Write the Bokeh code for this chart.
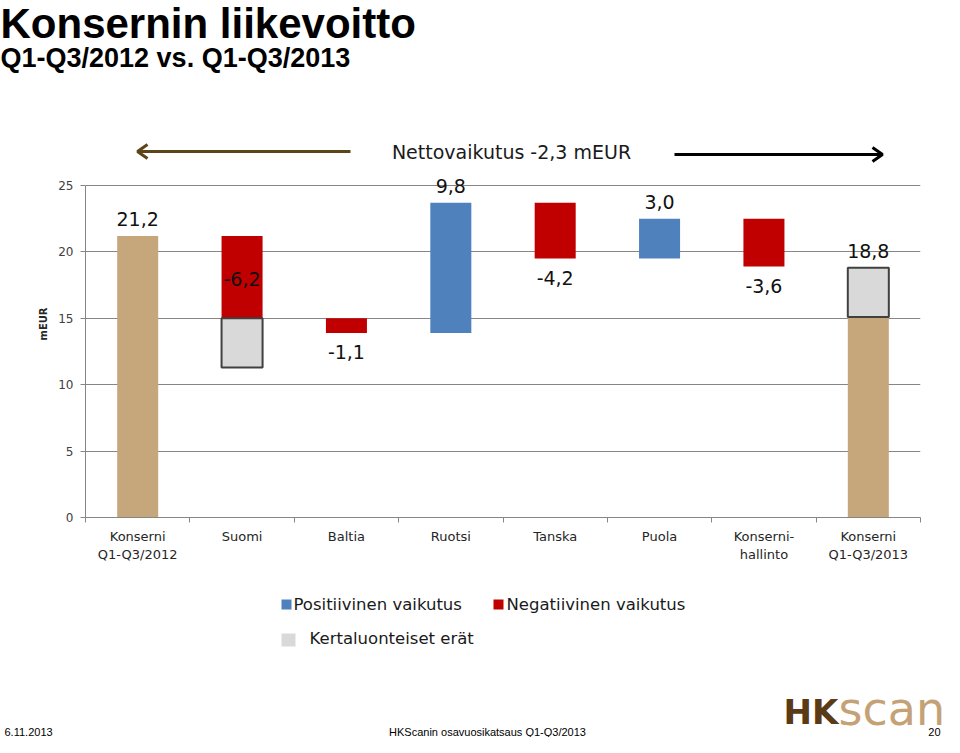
import numpy as np
from bokeh.plotting import figure
from bokeh.layouts import column
from bokeh.models import ColumnDataSource, Range1d, FixedTicker, LabelSet
from bokeh.core.properties import value
from bokeh.embed import file_html
from bokeh.resources import INLINE

# ---------------- data ----------------
categories = ["Konserni\nQ1-Q3/2012", "Suomi", "Baltia", "Ruotsi", "Tanska",
              "Puola", "Konserni-\nhallinto", "Konserni\nQ1-Q3/2013"]
start_value = 21.2
change_values = [-6.2, -1.1, 9.8, -4.2, 3.0, -3.6]      # Suomi .. Konsernihallinto
end_value = 18.8
one_off_index = [1, 7]                                   # Suomi, Konserni 2013
one_off_values = [3.7, 3.7]
label_place = ["above", "inside", "below", "above", "below", "above", "below", "above"]
y_ticks = [0, 5, 10, 15, 20, 25]
title_text = "Konsernin liikevoitto"
subtitle_text = "Q1-Q3/2012 vs. Q1-Q3/2013"
net_text = "Nettovaikutus -2,3 mEUR"
legend_labels = ["Positiivinen vaikutus", "Negatiivinen vaikutus", "Kertaluonteiset erät"]
footer_date = "6.11.2013"
footer_mid = "HKScanin osavuosikatsaus Q1-Q3/2013"
footer_page = "20"

# ---------------- colours / fonts ----------------
TAN = "#c6a77c"
RED = "#c00000"
BLUE = "#4f81bd"
GREY = "#d9d9d9"
GRID = "#868686"
FONT = "DejaVu Sans"

W = 944
TOP_H = 130          # title strip
MAIN_BOTTOM = 575    # picture y where the main figure ends
TOTAL_H = 737

n = len(categories)
xc = np.arange(n) + 0.5
BW = 0.393

# ---------------- waterfall geometry ----------------
base_x, base_top = [], []
pos_x, pos_bot, pos_top = [], [], []
neg_x, neg_bot, neg_top = [], [], []
tops, bots = [start_value], [0.0]
base_x.append(xc[0]); base_top.append(start_value)
running = start_value
for i, v in enumerate(change_values, start=1):
    lo, hi = min(running, running + v), max(running, running + v)
    if v >= 0:
        pos_x.append(xc[i]); pos_bot.append(lo); pos_top.append(hi)
    else:
        neg_x.append(xc[i]); neg_bot.append(lo); neg_top.append(hi)
    tops.append(hi); bots.append(lo)
    running += v
oo_x, oo_bot, oo_top = [], [], []
i0 = one_off_index[0]
oo_x.append(xc[i0]); oo_top.append(bots[i0]); oo_bot.append(bots[i0] - one_off_values[0])
i1 = one_off_index[1]
base_x.append(xc[i1]); base_top.append(end_value - one_off_values[1])
oo_x.append(xc[i1]); oo_bot.append(end_value - one_off_values[1]); oo_top.append(end_value)
tops.append(end_value); bots.append(0.0)

all_values = [start_value] + change_values + [end_value]
lab_x, lab_y, lab_t, offs = [], [], [], []
for i, (val, place) in enumerate(zip(all_values, label_place)):
    lab_t.append(f"{val:.1f}".replace(".", ","))
    lab_x.append(xc[i])
    if place == "above":
        lab_y.append(tops[i]); offs.append(17)
    elif place == "below":
        lab_y.append(bots[i]); offs.append(-19)
    else:
        lab_y.append((tops[i] + bots[i]) / 2); offs.append(-2)

def strip(height, y_top):
    f = figure(width=W, height=height, output_backend="svg", toolbar_location=None,
               title=None, x_range=Range1d(0, W), y_range=Range1d(y_top + height, y_top),
               min_border=0, x_axis_location=None, y_axis_location=None, frame_align=False)
    f.outline_line_color = None
    f.grid.grid_line_color = None
    return f

# ---------------- top strip: titles ----------------
pt = strip(TOP_H, 0)
pt.text(x=[0], y=[23], text=[title_text], text_align="left", text_baseline="middle",
        text_font=value("Liberation Sans"), text_font_style="bold",
        text_font_size="42px", text_color="#000000")
pt.text(x=[0], y=[57], text=[subtitle_text], text_align="left", text_baseline="middle",
        text_font=value("Liberation Sans"), text_font_style="bold",
        text_font_size="27px", text_color="#000000")

# ---------------- main chart ----------------
FX0, FX1, FY0, FY1 = 85.0, 920.0, 185.0, 517.0     # picture px of x 0..8 / y 25..0
PPY = (FY1 - FY0) / 25.0
y_end = (FY1 - TOP_H) / PPY
p = figure(width=W, height=MAIN_BOTTOM - TOP_H, output_backend="svg", toolbar_location=None,
           title=None, x_range=Range1d(0, n), y_range=Range1d(0, y_end),
           min_border_left=int(FX0), min_border_right=int(W - FX1), min_border_top=0,
           min_border_bottom=int(MAIN_BOTTOM - FY1), frame_align=False)
p.outline_line_color = None

def dx(px):
    return (px - FX0) / ((FX1 - FX0) / n)
def dy(py):
    return (FY1 - py) / PPY

p.vbar(x=base_x, width=BW, bottom=0, top=base_top, fill_color=TAN, line_color=None)
p.vbar(x=pos_x, width=BW, bottom=pos_bot, top=pos_top, fill_color=BLUE, line_color=None)
p.vbar(x=neg_x, width=BW, bottom=neg_bot, top=neg_top, fill_color=RED, line_color=None)
p.vbar(x=oo_x, width=BW, bottom=oo_bot, top=oo_top, fill_color=GREY,
       line_color="#404040", line_width=2)

src = ColumnDataSource(dict(x=lab_x, y=lab_y, t=lab_t, off=offs))
p.add_layout(LabelSet(x="x", y="y", text="t", y_offset="off", source=src,
                      text_align="center", text_baseline="middle",
                      text_font=value(FONT), text_font_size="19px", text_color="#111111"))

# header: arrows + net effect text
AC = "#5e4519"
p.segment(x0=[dx(350)], y0=[dy(151)], x1=[dx(138)], y1=[dy(151)], line_color=AC, line_width=3)
p.multi_line(xs=[[dx(147), dx(137), dx(147)]], ys=[[dy(144), dy(151), dy(158)]],
             line_color=AC, line_width=3)
p.segment(x0=[dx(674)], y0=[dy(154)], x1=[dx(881)], y1=[dy(154)], line_color="#000000", line_width=3)
p.multi_line(xs=[[dx(872), dx(882), dx(872)]], ys=[[dy(147), dy(154), dy(161)]],
             line_color="#000000", line_width=3)
p.text(x=[dx(511)], y=[dy(151)], text=[net_text], text_align="center", text_baseline="middle",
       text_font=value(FONT), text_font_size="19px", text_color="#1a1a1a")

# axes
p.yaxis.bounds = (0, 25)
p.yaxis.ticker = FixedTicker(ticks=y_ticks)
p.yaxis.axis_line_color = GRID
p.yaxis.major_tick_line_color = GRID
p.yaxis.major_tick_out = 5
p.yaxis.major_tick_in = 0
p.yaxis.minor_tick_line_color = None
p.yaxis.major_label_text_font = FONT
p.yaxis.major_label_text_font_size = "12px"
p.yaxis.major_label_text_color = "#404040"
p.yaxis.major_label_standoff = 7
p.yaxis.axis_label = "mEUR"
p.yaxis.axis_label_text_font = FONT
p.yaxis.axis_label_text_font_style = "bold"
p.yaxis.axis_label_text_font_size = "10px"
p.yaxis.axis_label_text_color = "#262626"
p.yaxis.axis_label_standoff = 6

p.xaxis.ticker = FixedTicker(ticks=list(xc), minor_ticks=list(range(n + 1)))
p.xaxis.major_label_overrides = {float(x): c for x, c in zip(xc, categories)}
p.xaxis.axis_line_color = GRID
p.xaxis.major_tick_line_color = None
p.xaxis.major_tick_out = 0
p.xaxis.major_tick_in = 0
p.xaxis.minor_tick_line_color = GRID
p.xaxis.minor_tick_out = 5
p.xaxis.minor_tick_in = 0
p.xaxis.major_label_text_font = FONT
p.xaxis.major_label_text_font_size = "13px"
p.xaxis.major_label_text_color = "#262626"
p.xaxis.major_label_standoff = 6

p.ygrid.ticker = FixedTicker(ticks=y_ticks)
p.ygrid.grid_line_color = GRID
p.xgrid.grid_line_color = None

# ---------------- bottom strip: legend, logo, footer ----------------
pb = strip(TOTAL_H - MAIN_BOTTOM, MAIN_BOTTOM)

pb.quad(left=[281, 493, 281], right=[291, 503, 295], top=[599, 599, 633], bottom=[609, 609, 646],
        fill_color=[BLUE, RED, GREY], line_color=None)
pb.text(x=[293, 506, 309], y=[604, 604, 638], text=legend_labels, text_align="left",
        text_baseline="middle", text_font=value(FONT), text_font_size="16.5px",
        text_color="#1a1a1a")

pb.text(x=[783], y=[711], text=["HK"], text_align="left", text_baseline="middle",
        text_font=value(FONT), text_font_style="bold", text_font_size="34px",
        text_color="#5b3a16")
pb.text(x=[838], y=[708], text=["scan"], text_align="left", text_baseline="middle",
        text_font=value(FONT), text_font_size="46px", text_color="#c4a275")

pb.text(x=[4], y=[731], text=[footer_date], text_align="left", text_baseline="middle",
        text_font=value("Liberation Sans"), text_font_size="11px", text_color="#000000")
pb.text(x=[487], y=[731], text=[footer_mid], text_align="center", text_baseline="middle",
        text_font=value("Liberation Sans"), text_font_size="11px", text_color="#000000")
pb.text(x=[940], y=[731], text=[footer_page], text_align="right", text_baseline="middle",
        text_font=value("Liberation Sans"), text_font_size="11px", text_color="#000000")

layout = column(pt, p, pb, spacing=0)
open("out.html", "w").write(file_html(layout, INLINE))
